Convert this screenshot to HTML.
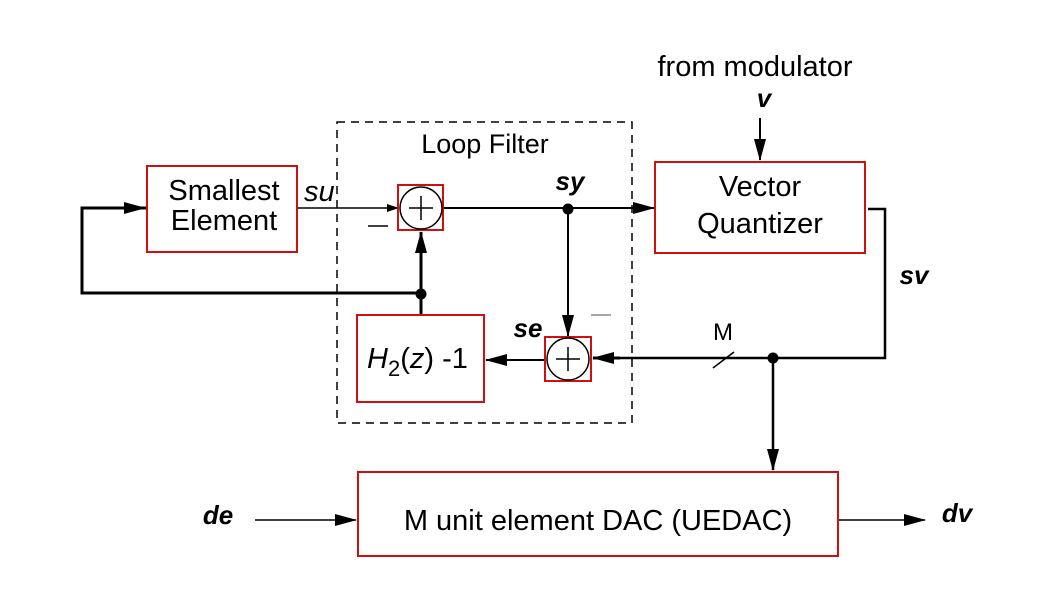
<!DOCTYPE html>
<html><head><style>
body{margin:0;background:#fff;}
svg{display:block;font-family:"Liberation Sans",sans-serif;}
</style></head><body>
<svg width="1050" height="591" viewBox="0 0 1050 591">
<defs><marker id="a" markerWidth="12" markerHeight="8" refX="11" refY="4" orient="auto" markerUnits="userSpaceOnUse"><path d="M0,0 L12,4 L0,8z" fill="#000"/></marker>
<marker id="b" markerWidth="22" markerHeight="12" refX="21" refY="6" orient="auto" markerUnits="userSpaceOnUse"><path d="M0,0 L22,6 L0,12z" fill="#000"/></marker></defs>
<rect x="337" y="122" width="295" height="301" fill="none" stroke="#000" stroke-width="1.5" stroke-dasharray="8,6"/>
<text x="485" y="153" font-size="27" text-anchor="middle">Loop Filter</text>
<g fill="none" stroke="#000" stroke-width="3">
<polyline points="147,208 82,208 82,293 421,293"/>
<line x1="82" y1="208" x2="145" y2="208" marker-end="url(#b)"/>
<line x1="421" y1="315" x2="421" y2="232" marker-end="url(#b)"/>
<polyline points="868,209 885,209 885,358 593,358" stroke-width="2.5"/>
<line x1="620" y1="358" x2="593" y2="358" marker-end="url(#b)"/>
<line x1="545" y1="360" x2="486" y2="360" marker-end="url(#b)" stroke-width="2"/>
<line x1="773" y1="358" x2="773" y2="470" marker-end="url(#b)" stroke-width="2.5"/>
<line x1="760" y1="118" x2="760" y2="160" marker-end="url(#b)" stroke-width="2"/>
</g>
<g fill="none" stroke="#000" stroke-width="1.5">
<line x1="297" y1="208" x2="398" y2="208" marker-end="url(#a)"/>
<line x1="443" y1="208" x2="654" y2="208" stroke-width="2" marker-end="url(#b)"/>
<line x1="568" y1="208" x2="568" y2="336" stroke-width="2" marker-end="url(#b)"/>
<line x1="255" y1="520" x2="356" y2="520" marker-end="url(#b)"/>
<line x1="838" y1="520" x2="925" y2="520" marker-end="url(#b)"/>
<line x1="713" y1="368" x2="734" y2="352"/>
</g>
<line x1="368" y1="226" x2="388" y2="226" stroke="#000" stroke-width="1.5"/>
<line x1="591" y1="315" x2="611" y2="315" stroke="#888" stroke-width="1.5"/>
<circle cx="421" cy="294" r="5.5"/><circle cx="568" cy="209" r="5.5"/><circle cx="773" cy="358" r="5.5"/>
<g fill="#fff" stroke="#d01010" stroke-width="2">
<rect x="147" y="166" width="150" height="86"/>
<rect x="357" y="315" width="127" height="87"/>
<rect x="655" y="162" width="210" height="91"/>
<rect x="358" y="472" width="480" height="84"/>
</g>
<g fill="none" stroke="#d01010" stroke-width="2">
<rect x="398" y="185" width="45" height="45"/>
<rect x="545" y="337" width="46" height="44"/>
</g>
<g fill="none" stroke="#000" stroke-width="1.5">
<circle cx="421" cy="208" r="21"/><line x1="409" y1="208" x2="433" y2="208"/><line x1="421" y1="196" x2="421" y2="220"/>
<circle cx="568" cy="359" r="21"/><line x1="556" y1="359" x2="580" y2="359"/><line x1="568" y1="347" x2="568" y2="371"/>
</g>
<g font-size="29">
<text x="224" y="200" text-anchor="middle">Smallest</text>
<text x="224" y="230" text-anchor="middle">Element</text>
<text x="760" y="196" text-anchor="middle">Vector</text>
<text x="760" y="233" text-anchor="middle">Quantizer</text>
<text x="598" y="530" text-anchor="middle">M unit element DAC (UEDAC)</text>
<text x="755" y="76" text-anchor="middle">from modulator</text>
<text x="723" y="340" text-anchor="middle" font-size="24">M</text>
<text x="367" y="368" font-style="italic">H<tspan font-size="22" font-style="normal" dy="8">2</tspan><tspan dy="-8" font-style="normal">(</tspan><tspan font-style="italic">z</tspan><tspan font-style="normal">) -1</tspan></text>
<text x="304" y="201" font-style="italic">su</text>
</g>
<g font-size="26" font-weight="bold" font-style="italic">
<text x="570" y="190" text-anchor="middle">sy</text>
<text x="528" y="337" text-anchor="middle">se</text>
<text x="914" y="284" text-anchor="middle">sv</text>
<text x="764" y="107" text-anchor="middle">v</text>
<text x="218" y="524" text-anchor="middle">de</text>
<text x="957" y="522" text-anchor="middle">dv</text>
</g>
</svg>
</body></html>
